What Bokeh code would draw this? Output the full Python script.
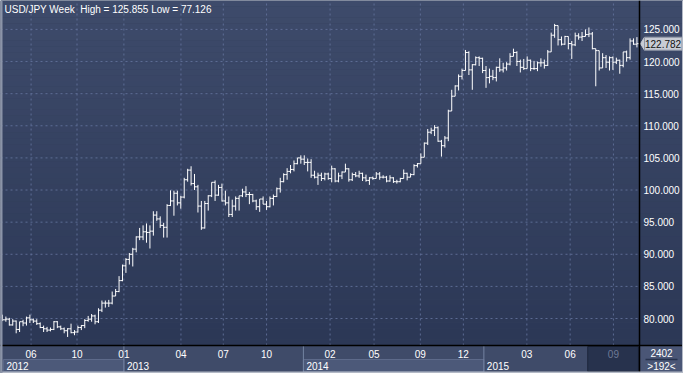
import numpy as np
from bokeh.plotting import figure
from bokeh.models import Range1d
from bokeh.embed import file_html
from bokeh.resources import INLINE
from bokeh.core.properties import value

# ---------------- data (weekly USD/JPY, week of 2012-04-30 .. 2015-11-16) ----------------
opens = [
    80.2, 79.8, 79.9, 79.0, 79.6, 78.3, 79.5, 79.3, 80.1, 79.8,
    79.6, 79.2, 78.6, 78.4, 78.2, 78.3, 79.5, 78.7, 78.4, 78.1,
    78.4, 77.8, 77.9, 78.6, 78.9, 79.7, 79.9, 80.4, 79.5, 81.3,
    82.4, 82.4, 82.4, 83.5, 84.2, 85.9, 88.2, 89.2, 90.0, 90.8,
    92.7, 92.7, 93.5, 93.4, 93.6, 96.1, 95.5, 94.5, 94.2, 97.6,
    98.3, 99.5, 98.0, 98.9, 101.6, 103.1, 101.0, 100.5, 97.5, 94.1,
    97.9, 99.1, 101.2, 99.2, 100.4, 98.3, 98.0, 96.2, 97.5, 98.7,
    99.1, 99.7, 99.3, 99.3, 98.3, 97.4, 98.6, 97.8, 97.4, 98.7,
    99.0, 100.2, 101.3, 102.4, 102.9, 103.2, 104.1, 105.0, 104.8, 104.3,
    104.3, 102.3, 102.0, 102.3, 101.8, 102.5, 101.8, 103.3, 101.4, 102.2,
    102.8, 103.3, 101.6, 102.4, 102.2, 102.6, 101.9, 101.5, 101.9, 101.8,
    102.5, 102.0, 102.0, 101.4, 101.9, 101.3, 101.3, 101.8, 102.6, 102.0,
    102.4, 103.8, 104.1, 105.1, 107.3, 109.0, 109.3, 109.7, 107.6, 106.9,
    108.1, 112.3, 114.6, 116.2, 117.7, 118.6, 121.4, 118.7, 119.5, 120.6,
    120.5, 118.6, 117.5, 117.7, 117.5, 119.1, 118.7, 119.0, 119.6, 120.8,
    121.4, 120.0, 119.1, 118.9, 120.2, 118.9, 118.9, 119.8, 119.8, 119.4,
    121.5, 124.1, 125.6, 123.4, 122.7, 123.9, 122.8, 122.6, 124.0, 123.8,
    123.9, 124.2, 124.3, 122.0, 121.7, 119.0, 120.6, 119.9, 120.6, 119.9,
    120.2, 119.4, 121.5, 120.6, 123.2, 122.7,
]
highs = [
    80.6, 80.3, 80.1, 79.9, 79.7, 79.5, 79.8, 80.3, 80.6, 80.0,
    79.9, 79.4, 78.9, 78.7, 78.6, 79.6, 79.6, 78.9, 78.6, 78.5,
    79.2, 78.2, 78.9, 79.0, 79.9, 80.4, 80.7, 80.6, 81.6, 82.8,
    82.8, 82.9, 84.2, 84.6, 86.6, 88.4, 89.4, 90.2, 91.0, 92.8,
    94.1, 94.5, 94.8, 94.5, 96.7, 96.7, 95.9, 94.9, 97.8, 99.95,
    99.9, 99.9, 99.1, 101.9, 103.3, 103.7, 102.5, 100.8, 98.3, 98.3,
    99.2, 101.2, 101.5, 100.8, 101.0, 99.9, 99.0, 98.5, 99.0, 99.1,
    100.2, 100.6, 99.7, 99.4, 98.5, 98.6, 99.0, 98.3, 99.0, 99.3,
    100.4, 101.9, 102.6, 103.4, 103.9, 104.6, 105.0, 105.4, 105.4, 104.9,
    104.8, 103.0, 102.7, 102.7, 102.7, 102.7, 103.8, 103.4, 102.7, 102.9,
    104.1, 103.4, 102.7, 102.8, 103.0, 102.7, 102.4, 102.0, 102.1, 102.8,
    102.8, 102.3, 102.2, 102.3, 102.0, 101.6, 101.9, 103.2, 102.7, 102.6,
    104.0, 104.2, 105.7, 107.4, 109.5, 109.7, 110.1, 109.9, 107.8, 108.4,
    112.5, 115.6, 116.3, 118.0, 118.9, 121.8, 121.6, 119.6, 120.8, 120.8,
    120.6, 119.3, 118.9, 118.7, 119.2, 120.5, 119.8, 119.9, 121.3, 122.0,
    121.6, 120.3, 120.4, 120.8, 120.3, 120.1, 120.0, 120.5, 120.3, 121.8,
    124.5, 125.86, 125.6, 123.9, 124.0, 123.9, 123.2, 124.5, 124.4, 124.6,
    125.0, 125.3, 124.6, 122.0, 121.7, 121.3, 121.0, 120.8, 120.8, 120.6,
    120.3, 121.5, 121.7, 123.6, 123.6, 123.8,
]
lows = [
    79.6, 79.5, 78.9, 78.9, 77.7, 77.9, 78.8, 78.9, 79.3, 79.3,
    79.0, 78.5, 77.9, 77.9, 78.0, 78.2, 78.5, 78.2, 77.7, 77.13,
    77.7, 77.4, 77.8, 78.2, 78.5, 79.5, 79.5, 79.1, 79.3, 81.0,
    81.7, 81.8, 82.2, 83.5, 84.1, 85.8, 87.1, 88.4, 88.1, 90.3,
    92.2, 92.2, 91.8, 90.9, 92.9, 95.2, 94.1, 92.6, 92.6, 97.5,
    96.0, 97.6, 97.1, 98.7, 101.3, 100.7, 100.0, 96.5, 93.8, 94.0,
    96.8, 98.9, 98.3, 99.1, 98.2, 97.6, 95.8, 95.8, 96.8, 96.8,
    98.9, 98.9, 97.8, 98.1, 96.9, 96.6, 97.8, 96.9, 97.3, 97.6,
    98.9, 99.6, 101.2, 101.6, 102.6, 102.9, 104.0, 104.1, 103.9, 102.9,
    101.9, 101.8, 100.8, 101.4, 101.5, 101.6, 101.2, 101.2, 101.2, 101.7,
    102.8, 101.3, 101.4, 102.0, 101.9, 101.4, 101.3, 100.8, 101.6, 101.8,
    101.6, 101.8, 101.2, 101.3, 101.1, 101.0, 101.2, 101.8, 101.5, 102.0,
    102.3, 103.5, 104.1, 105.1, 107.0, 108.7, 108.4, 107.5, 105.2, 106.6,
    107.6, 112.3, 114.6, 115.5, 117.2, 118.6, 117.9, 115.6, 119.4, 119.3,
    118.2, 115.9, 116.6, 117.1, 116.9, 118.4, 118.3, 118.6, 119.4, 120.8,
    119.3, 118.3, 118.7, 118.9, 118.5, 118.7, 118.5, 119.2, 118.9, 119.3,
    121.5, 123.7, 122.5, 122.5, 122.6, 121.9, 120.4, 122.4, 123.4, 123.2,
    123.9, 123.8, 121.9, 116.15, 118.6, 119.0, 119.0, 118.6, 118.7, 119.6,
    118.1, 119.1, 120.0, 120.3, 122.6, 122.2,
]
closes = [
    79.8, 79.9, 79.0, 79.6, 78.3, 79.5, 79.3, 80.1, 79.8, 79.6,
    79.2, 78.6, 78.4, 78.2, 78.3, 79.5, 78.7, 78.4, 78.1, 78.4,
    77.8, 77.9, 78.6, 78.9, 79.7, 79.9, 80.4, 79.5, 81.3, 82.4,
    82.4, 82.4, 83.5, 84.2, 85.9, 88.2, 89.2, 90.0, 90.8, 92.7,
    92.7, 93.5, 93.4, 93.6, 96.1, 95.5, 94.5, 94.2, 97.6, 98.3,
    99.5, 98.0, 98.9, 101.6, 103.1, 101.0, 100.5, 97.5, 94.1, 97.9,
    99.1, 101.2, 99.2, 100.4, 98.3, 98.0, 96.2, 97.5, 98.7, 99.1,
    99.7, 99.3, 99.3, 98.3, 97.4, 98.6, 97.8, 97.4, 98.7, 99.0,
    100.2, 101.3, 102.4, 102.9, 103.2, 104.1, 105.0, 104.8, 104.3, 104.3,
    102.3, 102.0, 102.3, 101.8, 102.5, 101.8, 103.3, 101.4, 102.2, 102.8,
    103.3, 101.6, 102.4, 102.2, 102.6, 101.9, 101.5, 101.9, 101.8, 102.5,
    102.0, 102.0, 101.4, 101.9, 101.3, 101.3, 101.8, 102.6, 102.0, 102.4,
    103.8, 104.1, 105.1, 107.3, 109.0, 109.3, 109.7, 107.6, 106.9, 108.1,
    112.3, 114.6, 116.2, 117.7, 118.6, 121.4, 118.7, 119.5, 120.6, 120.5,
    118.6, 117.5, 117.7, 117.5, 119.1, 118.7, 119.0, 119.6, 120.8, 121.4,
    120.0, 119.1, 118.9, 120.2, 118.9, 118.9, 119.8, 119.8, 119.4, 121.5,
    124.1, 125.6, 123.4, 122.7, 123.9, 122.8, 122.6, 124.0, 123.8, 123.9,
    124.2, 124.3, 122.0, 121.7, 119.0, 120.6, 119.9, 120.6, 119.9, 120.2,
    119.4, 121.5, 120.6, 123.2, 122.7, 122.78,
]
assert len(opens) == len(highs) == len(lows) == len(closes) == 186

price_ticks = [80, 85, 90, 95, 100, 105, 110, 115, 120, 125]
month_ticks = [8.35, 21.74, 35.41, 52.05, 64.39, 77.01, 95.53, 108.35, 121.85, 134.39, 152.91, 165.53, 178.15]
month_labels = ["06", "10", "01", "04", "07", "10", "02", "05", "09", "12", "03", "06", "09"]
year_starts = [0.28, 35.41, 87.75, 140.37]
year_labels = ["2012", "2013", "2014", "2015"]
current_start = 170.66
last_price = 122.782
title_text = "USD/JPY Week\u00a0 High = 125.855 Low = 77.126"
corner_top, corner_bottom = "2402", ">192<"

# ---------------- layout ----------------
W, H = 683, 373
AXIS_W = 44
PLOT_W = W - AXIS_W          # width of the price area in px
PRICE_H = 345
PANEL_H = H - PRICE_H
P_TOP, P_BOT = 129.5, 75.8
ppu = PRICE_H / (P_TOP - P_BOT)
Y0 = P_BOT - PANEL_H / ppu
X0, X1 = -0.57, 185.75       # price area spans X0..X1
ppx = PLOT_W / (X1 - X0)
XE = X1 + AXIS_W / ppx       # right edge of the price-scale panel

FONT = value("Liberation Sans")
FS = "10px"

p = figure(width=W, height=H, x_range=Range1d(X0, XE), y_range=Range1d(Y0, P_TOP),
           output_backend="svg", toolbar_location=None,
           x_axis_location=None, y_axis_location=None,
           min_border=0)
p.grid.grid_line_color = None
p.outline_line_color = None
p.background_fill_color = "#34405e"
p.border_fill_color = "#34405e"

# background gradient (price area + price-scale panel)
n_bands = 60
edges = np.linspace(P_TOP, P_BOT, n_bands + 1)
c_top = np.array([62, 75, 107])
c_bot = np.array([44, 56, 86])
cols = []
for k in range(n_bands):
    t = k / (n_bands - 1)
    c = (c_top * (1 - t) + c_bot * t).astype(int)
    cols.append("#%02x%02x%02x" % tuple(c))
p.quad(left=X0, right=XE, top=edges[:-1], bottom=edges[1:], fill_color=cols, line_color=None)

# grid lines
grid_col = "#62719a"
p.segment(x0=X0, x1=X1, y0=price_ticks, y1=price_ticks, line_color=grid_col,
          line_dash="2 3", line_width=1, line_alpha=0.9)
p.segment(x0=month_ticks, x1=month_ticks, y0=P_BOT, y1=P_TOP, line_color=grid_col,
          line_dash="2 3", line_width=1, line_alpha=0.9)

# OHLC bars
idx = np.arange(len(closes))
tick = 0.5
p.segment(x0=idx, x1=idx, y0=lows, y1=highs, line_color="white", line_width=1)
p.segment(x0=idx - tick, x1=idx, y0=opens, y1=opens, line_color="white", line_width=1)
p.segment(x0=idx, x1=idx + tick, y0=closes, y1=closes, line_color="white", line_width=1)

# title
p.text(x=[X0 + 4 / ppx], y=[P_TOP - 8.5 / ppu], text=[title_text], text_color="white",
       text_font=FONT, text_font_size=FS, text_baseline="middle", text_align="left")

# price scale labels
p.text(x=X1 + 4 / ppx, y=price_ticks, text=[f"{t:.3f}" for t in price_ticks],
       text_color="white", text_font=FONT, text_font_size=FS,
       text_align="left", text_baseline="middle")

# last price marker
mk_h = 6.5 / ppu
p.patch(x=[X1 + 1 / ppx, X1 + 5 / ppx, X1 + 5 / ppx],
        y=[last_price, last_price + mk_h, last_price - mk_h],
        fill_color="#c8ccd5", line_color="#c8ccd5")
p.quad(left=[X1 + 5 / ppx], right=[XE - 1.5 / ppx], bottom=[last_price - mk_h], top=[last_price + mk_h],
       fill_color="#c8ccd5", line_color="#8f96a6", line_width=1)
p.text(x=[X1 + 5.5 / ppx], y=[last_price], text=[f"{last_price:.3f}"], text_color="#111111",
       text_font=FONT, text_font_size=FS, text_align="left", text_baseline="middle")

# bottom time panel
p.quad(left=X0, right=X1, bottom=Y0, top=P_BOT, fill_color="#3f4b69", line_color=None)
row_top = P_BOT - 14 / ppu
row_bot = P_BOT - 26 / ppu
even = [0, 2]
p.quad(left=[year_starts[k] for k in even], right=[year_starts[k + 1] for k in even],
       bottom=row_bot, top=row_top, fill_color="#4c5979", line_color="#5d6a8a", line_width=1)
p.segment(x0=year_starts[1:], x1=year_starts[1:], y0=Y0, y1=P_BOT, line_color="#7483a2", line_width=1)
p.quad(left=[current_start], right=[X1 - 0.3], bottom=[Y0 + 2 / ppu], top=[P_BOT - 1 / ppu],
       fill_color="#27324d", line_color="#1d263c", line_width=1)
month_cols = ["white"] * (len(month_labels) - 1) + ["#6e7a97"]
p.text(x=month_ticks, y=P_BOT - 8 / ppu, text=month_labels, text_color=month_cols,
       text_font=FONT, text_font_size=FS, text_align="center", text_baseline="middle")
p.text(x=[s + 3 / ppx for s in year_starts], y=P_BOT - 20.5 / ppu, text=year_labels,
       text_color="white", text_font=FONT, text_font_size=FS,
       text_align="left", text_baseline="middle")

# corner panel
p.quad(left=[X1], right=[XE], bottom=[Y0], top=[P_BOT], fill_color="#4a5676", line_color=None)
p.segment(x0=[X1 + 6 / ppx], x1=[XE - 6 / ppx], y0=[P_BOT - 14 / ppu], y1=[P_BOT - 14 / ppu],
          line_color="#27324d", line_width=1.5)
p.text(x=[(X1 + XE) / 2] * 2, y=[P_BOT - 7.5 / ppu, P_BOT - 21 / ppu], text=[corner_top, corner_bottom],
       text_color="white", text_font=FONT, text_font_size=FS, text_align="center", text_baseline="middle")

# frame lines and outer light edges
p.segment(x0=[X0], x1=[XE], y0=[P_BOT], y1=[P_BOT], line_color="black", line_width=1.5)
p.segment(x0=[X1], x1=[X1], y0=[Y0], y1=[P_TOP], line_color="black", line_width=1.5)
p.quad(left=X0, right=XE, bottom=Y0, top=Y0 + 2 / ppu, fill_color="#b3b9c6", line_color=None)
p.quad(left=X0, right=X0 + 2 / ppx, bottom=Y0, top=P_TOP, fill_color="#8b94a8", line_color=None)
p.quad(left=XE - 1.5 / ppx, right=XE, bottom=Y0, top=P_TOP, fill_color="#b3b9c6", line_color=None)

open("out.html", "w").write(file_html(p, INLINE))
